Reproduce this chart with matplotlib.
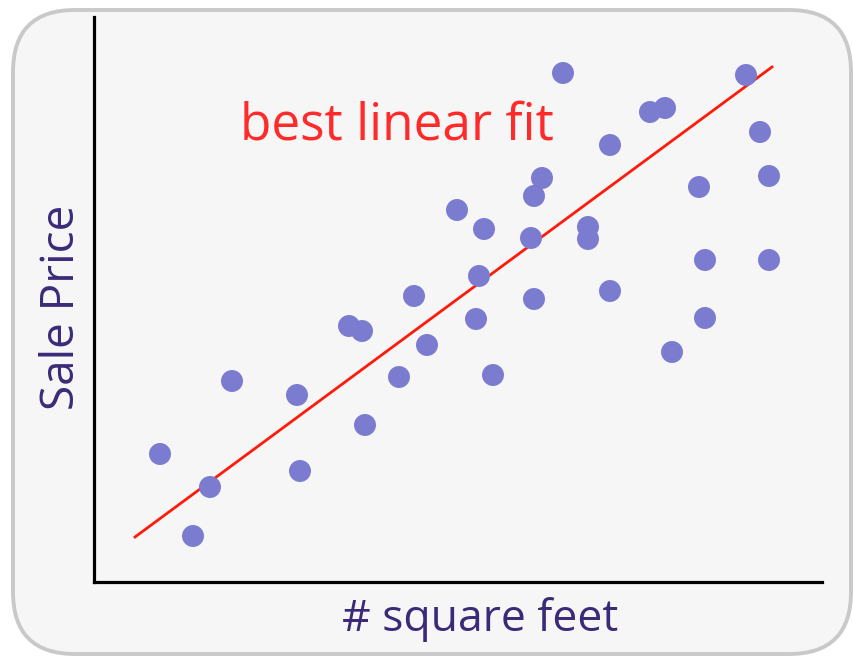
import matplotlib
matplotlib.use("Agg")
from matplotlib import pyplot as plt
from matplotlib.patches import FancyBboxPatch

# scatter data (arbitrary units: sq feet vs price)
sqft = [66, 99, 116, 138, 203, 206, 255, 268, 271, 305, 320, 333, 363, 382, 385,
        390, 399, 437, 440, 440, 448, 469, 494, 494, 516, 516, 556, 571, 578, 605,
        611, 611, 652, 666, 675, 675]
price = [128, 46, 95, 201, 187, 111, 256, 251, 157, 205, 286, 237, 372, 263, 306,
         353, 207, 344, 386, 283, 404, 509, 355, 343, 437, 291, 470, 474, 230, 395,
         322, 264, 507, 450, 406, 322]
fit_x = [41, 678]
fit_y = [45, 515]

fig = plt.figure(figsize=(8.54, 6.59), dpi=100)
fig.patch.set_facecolor("white")

# rounded card background
bg = fig.add_axes([0, 0, 1, 1])
bg.set_xlim(0, 854)
bg.set_ylim(659, 0)
bg.axis("off")
card = FancyBboxPatch((13, 10), 838, 644, boxstyle="round,pad=0,rounding_size=62",
                      facecolor="#f6f6f6", edgecolor="#c9c9c9", linewidth=2.8)
bg.add_patch(card)

ax = fig.add_axes([94 / 854, 77 / 659, 728 / 854, 565 / 659])
ax.set_facecolor("none")
ax.set_xlim(0, 728)
ax.set_ylim(0, 565)
for s in ["top", "right"]:
    ax.spines[s].set_visible(False)
for s in ["left", "bottom"]:
    ax.spines[s].set_linewidth(2.3)
    ax.spines[s].set_color("black")
ax.set_xticks([])
ax.set_yticks([])

ax.scatter(sqft, price, s=250, color="#7b7bd0", edgecolors="none", zorder=3)
ax.plot(fit_x, fit_y, color="#ff1a0a", linewidth=2, zorder=2)

fig.text(397 / 854, 1 - 126 / 659, "best linear fit", color="#ff2b2b",
         fontsize=37, family="Open Sans", ha="center", va="center")
fig.text(480 / 854, 1 - 620 / 659, "# square feet", color="#3b2a78",
         fontsize=32, family="Open Sans", ha="center", va="center")
fig.text(62 / 854, 1 - 307 / 659, "Sale Price", color="#3b2a78",
         fontsize=33, family="Open Sans", ha="center", va="center", rotation=90)

fig.savefig("out.png", dpi=100)
